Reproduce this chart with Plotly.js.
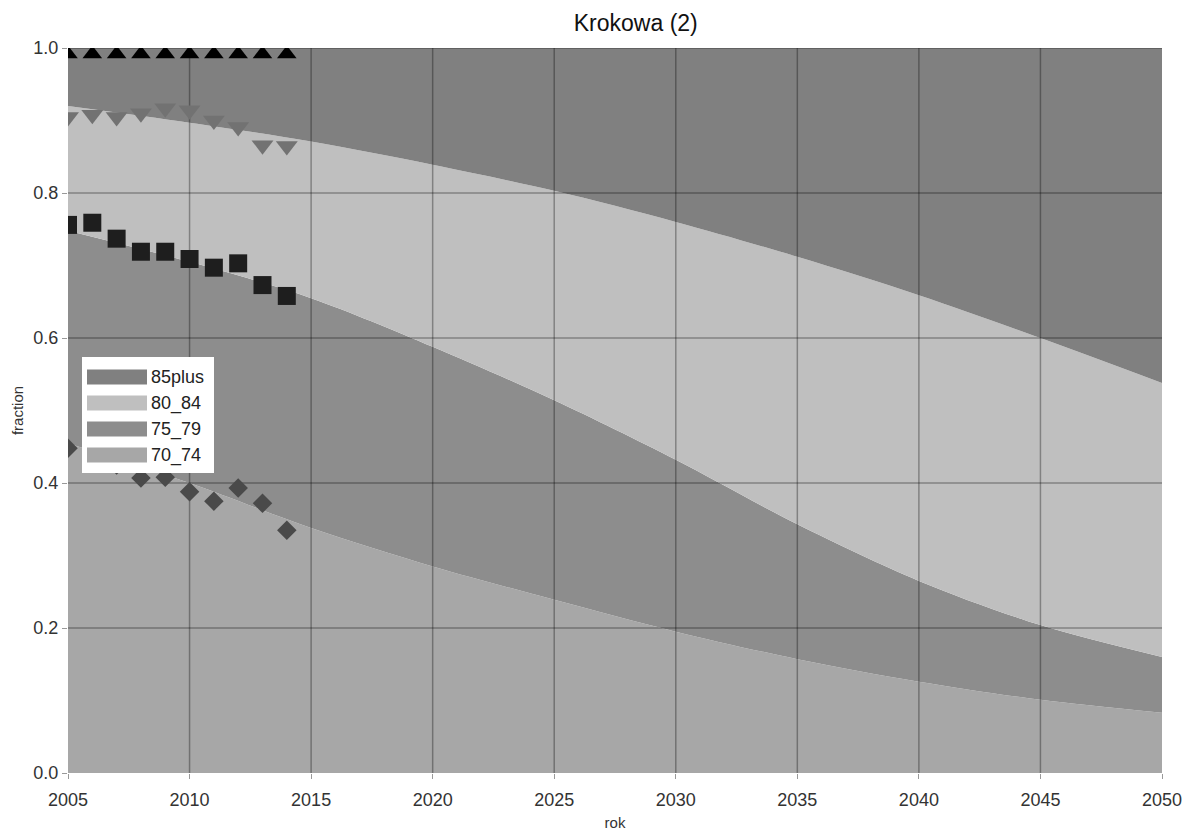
<!DOCTYPE html>
<html>
<head>
<meta charset="utf-8">
<script src="https://cdn.plot.ly/plotly-3.0.1.min.js"></script>
<style>
  html, body { margin: 0; padding: 0; background: #fff; }
  #chart { width: 1190px; height: 832px; }
</style>
</head>
<body>
<div id="chart"></div>
<script>
// ---- data ----
const years = [2005, 2010, 2015, 2020, 2025, 2030, 2035, 2040, 2045, 2050];
const share70_74 = [0.455, 0.400, 0.338, 0.285, 0.239, 0.195, 0.157, 0.126, 0.101, 0.083];
const share75_79 = [0.293, 0.305, 0.317, 0.303, 0.275, 0.237, 0.186, 0.139, 0.103, 0.077];
const share80_84 = [0.172, 0.192, 0.216, 0.251, 0.289, 0.328, 0.369, 0.394, 0.396, 0.378];
const share85plus = [0.080, 0.103, 0.129, 0.161, 0.197, 0.240, 0.288, 0.341, 0.400, 0.462];

const obsYears = [2005, 2006, 2007, 2008, 2009, 2010, 2011, 2012, 2013, 2014];
const obsCum85plus = [1, 1, 1, 1, 1, 1, 1, 1, 1, 1];
const obsCum80_84 = [0.905, 0.908, 0.905, 0.910, 0.917, 0.914, 0.900, 0.891, 0.866, 0.865];
const obsCum75_79 = [0.756, 0.759, 0.737, 0.719, 0.719, 0.709, 0.697, 0.703, 0.673, 0.658];
const obsCum70_74 = [0.448, 0.435, 0.425, 0.407, 0.408, 0.388, 0.375, 0.393, 0.372, 0.335];

const seriesNames = ['70_74', '75_79', '80_84', '85plus'];
const xTicks = [2005, 2010, 2015, 2020, 2025, 2030, 2035, 2040, 2045, 2050];
const yTicks = [0, 0.2, 0.4, 0.6, 0.8, 1.0];

// ---- styles ----
const fillColors = ['#a7a7a7', '#8d8d8d', '#bfbfbf', '#808080'];
const FONT = 'Liberation Sans, Arial, sans-serif';
const M = { l: 68, r: 28, t: 48, b: 59 };
const W = 1190, H = 832;
const PW = W - M.l - M.r, PH = H - M.t - M.b;
const px2x = p => (p - M.l) / PW;
const py2y = p => (H - M.b - p) / PH;

const shares = [share70_74, share75_79, share80_84, share85plus];
const traces = [];
shares.forEach((s, i) => {
  traces.push({
    x: years, y: s, name: seriesNames[i],
    type: 'scatter', mode: 'lines', stackgroup: 'one',
    line: { width: 0, shape: 'spline', smoothing: 0.9 },
    fillcolor: fillColors[i],
    showlegend: false, hoverinfo: 'skip'
  });
});

// grid lines drawn above the fills, below the markers
const gx = [], gy = [];
xTicks.slice(1, -1).forEach(t => { gx.push(t, t, null); gy.push(yTicks[0], yTicks[yTicks.length - 1], null); });
yTicks.slice(1).forEach(t => { gx.push(xTicks[0], xTicks[xTicks.length - 1], null); gy.push(t, t, null); });
traces.push({
  x: gx, y: gy, type: 'scatter', mode: 'lines',
  line: { color: 'rgba(0,0,0,0.32)', width: 1.5 },
  showlegend: false, hoverinfo: 'skip'
});

const markerDefs = [
  { y: obsCum70_74, symbol: 'diamond', size: 15, color: '#4a4a4a' },
  { y: obsCum75_79, symbol: 'square', size: 18, color: '#1e1e1e' },
  { y: obsCum80_84, symbol: 'triangle-down', size: 19, color: '#727272' },
  { y: obsCum85plus, symbol: 'triangle-up', size: 17, color: '#000000', standoff: 6 }
];
markerDefs.forEach(m => {
  const mk = { symbol: m.symbol, size: m.size, color: m.color, line: { width: 0 } };
  if (m.standoff) mk.standoff = m.standoff;
  traces.push({
    x: obsYears, y: m.y, type: 'scatter', mode: 'markers',
    marker: mk, showlegend: false, hoverinfo: 'skip', cliponaxis: true
  });
});

// legend box (drawn as shapes + text so the swatches match the reference's wide patches)
const shapes = [{
  type: 'rect', xref: 'paper', yref: 'paper', layer: 'above',
  x0: px2x(82), x1: px2x(214), y0: py2y(473), y1: py2y(357),
  fillcolor: '#ffffff', line: { width: 0 }
}];
const annotations = [];
const rowCenters = [377, 403, 429, 455];
const legendOrder = [3, 2, 1, 0];
legendOrder.forEach((idx, r) => {
  const cy = rowCenters[r];
  shapes.push({
    type: 'rect', xref: 'paper', yref: 'paper', layer: 'above',
    x0: px2x(87), x1: px2x(147), y0: py2y(cy + 7.5), y1: py2y(cy - 7.5),
    fillcolor: fillColors[idx], line: { width: 0 }
  });
  annotations.push({
    xref: 'paper', yref: 'paper', x: px2x(149), y: py2y(cy),
    xanchor: 'left', yanchor: 'middle', showarrow: false,
    text: seriesNames[idx], font: { family: FONT, size: 18, color: '#222' }
  });
});

const layout = {
  width: W, height: H,
  margin: M,
  paper_bgcolor: '#ffffff', plot_bgcolor: '#ffffff',
  font: { family: FONT, color: '#333333' },
  title: {
    text: 'Krokowa (2)', font: { family: FONT, size: 23, color: '#111111' },
    x: 0.519, xref: 'paper', xanchor: 'center', y: 0.982, yref: 'container', yanchor: 'top'
  },
  xaxis: {
    range: [2005, 2050], tickvals: xTicks, ticktext: xTicks.map(String),
    showgrid: false, zeroline: false, showline: false,
    ticks: 'outside', ticklen: 5, tickcolor: '#999', ticklabelstandoff: 5,
    tickfont: { family: FONT, size: 18, color: '#333' },
    title: { text: 'rok', font: { family: FONT, size: 15, color: '#333' }, standoff: 8 }
  },
  yaxis: {
    range: [0, 1], tickvals: yTicks, tickformat: '.1f',
    showgrid: false, zeroline: false, showline: false,
    ticks: 'outside', ticklen: 5, tickcolor: '#999',
    tickfont: { family: FONT, size: 18, color: '#333' },
    title: { text: 'fraction', font: { family: FONT, size: 15, color: '#333' }, standoff: 6 }
  },
  showlegend: false,
  shapes: shapes,
  annotations: annotations
};

Plotly.newPlot('chart', traces, layout, { staticPlot: true, displayModeBar: false });
</script>
</body>
</html>
